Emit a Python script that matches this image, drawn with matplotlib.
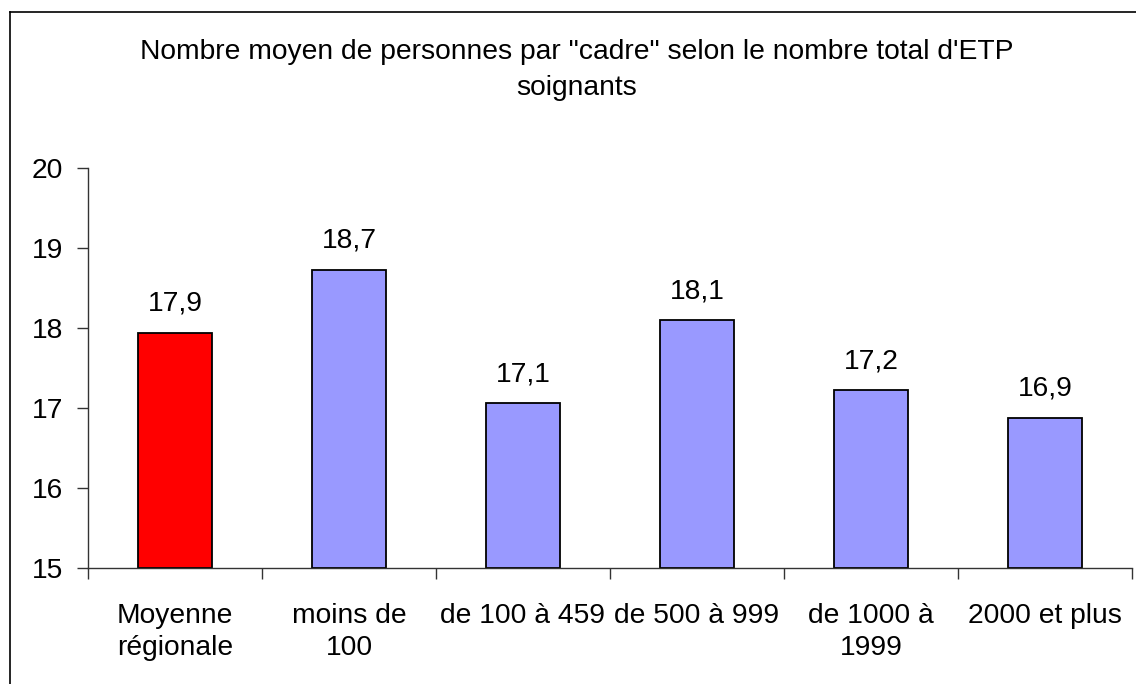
import numpy as np
import matplotlib
matplotlib.use("Agg")
import matplotlib.pyplot as plt
from matplotlib.lines import Line2D

categories = ["Moyenne\nrégionale", "moins de\n100", "de 100 à 459",
              "de 500 à 999", "de 1000 à\n1999", "2000 et plus"]
values     = [17.94, 18.73, 17.06, 18.10, 17.22, 16.88]
bar_colors = ["#FF0000", "#9999FF", "#9999FF", "#9999FF", "#9999FF", "#9999FF"]
title      = "Nombre moyen de personnes par \"cadre\" selon le nombre total d'ETP\nsoignants"

plt.rcParams["font.family"] = ["Liberation Sans", "DejaVu Sans"]
FS = 20.3

W, H = 1136, 684
fig = plt.figure(figsize=(W / 100, H / 100), dpi=100)
ax = fig.add_axes([88 / W, 1 - 568 / H, (1132 - 88) / W, (568 - 168) / H])

x = np.arange(len(categories))
bars = ax.bar(x, [v - 15 for v in values], bottom=15, width=0.42,
              color=bar_colors, edgecolor="black", linewidth=1.3)

for xi, v in zip(x, values):
    ax.text(xi, v + 0.2, f"{v:.1f}".replace(".", ","), ha="center", va="bottom",
            fontsize=FS)

ax.set_xlim(-0.5, len(categories) - 0.5)
ax.set_ylim(15, 20)
ax.set_yticks(range(15, 21))
ax.tick_params(axis="y", direction="out", length=8, width=1, pad=10,
               labelsize=FS, color="#333333")

ax.set_xticks(x)
ax.set_xticklabels(categories, fontsize=FS, linespacing=1.3)
ax.tick_params(axis="x", which="major", length=0, pad=25)
ax.set_xticks(np.arange(len(categories) + 1) - 0.5, minor=True)
ax.tick_params(axis="x", which="minor", direction="out", length=8, width=1,
               color="#333333")

for s in ["top", "right"]:
    ax.spines[s].set_visible(False)
for s in ["left", "bottom"]:
    ax.spines[s].set_color("#333333")
    ax.spines[s].set_linewidth(1)

fig.text(577 / W, 1 - 39 / H, title, ha="center", va="top", fontsize=FS,
         linespacing=1.5)

# outer chart frame
fig.add_artist(Line2D([10 / W, 10 / W], [1 - 12 / H, -0.05], color="black",
                      linewidth=1.2, transform=fig.transFigure))
fig.add_artist(Line2D([10 / W, 1.05], [1 - 12 / H, 1 - 12 / H], color="black",
                      linewidth=1.2, transform=fig.transFigure))

fig.savefig("out.png", dpi=100)
